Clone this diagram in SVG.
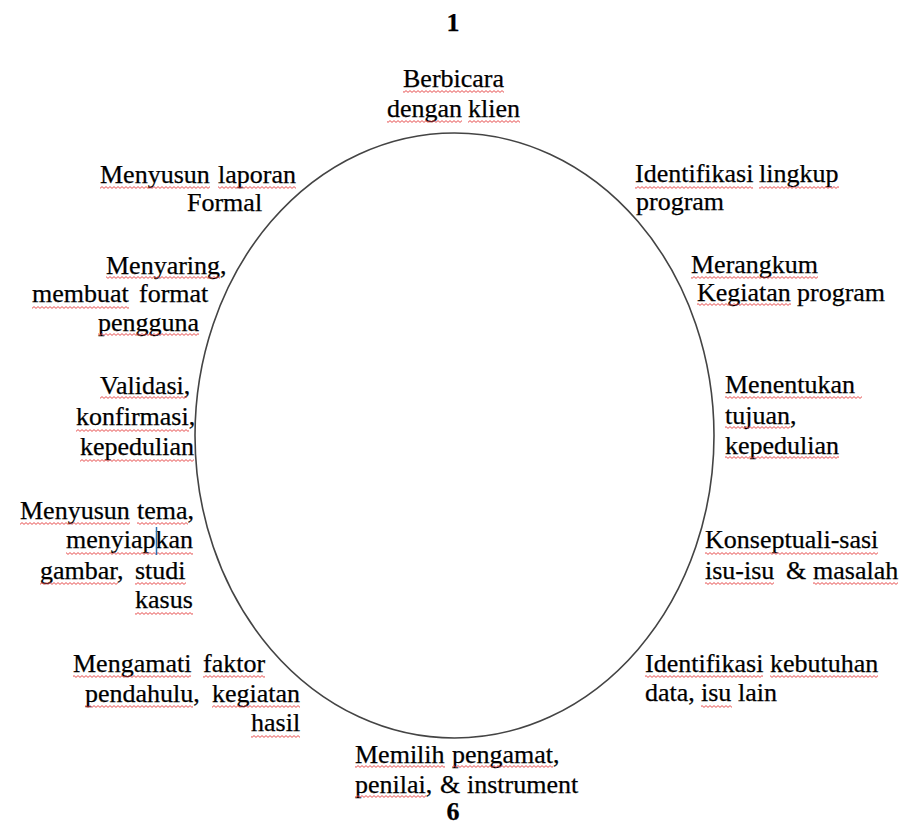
<svg xmlns="http://www.w3.org/2000/svg" width="911" height="825" viewBox="0 0 911 825">
<defs>
<pattern id="wave" width="4" height="3" patternUnits="userSpaceOnUse">
<path d="M0 2.4 L2 0.6 L4 2.4" fill="none" stroke="#e43b3b" stroke-width="0.9"/>
</pattern>
</defs>
<style>
text{font-family:"Liberation Serif","DejaVu Serif",serif;font-size:26px;fill:#000;stroke:#000;stroke-width:0.25;white-space:pre}
.num{font-weight:bold;text-anchor:middle}
.w{fill:url(#wave)}
.ring{fill:none;stroke:#444;stroke-width:1.6}
</style>
<rect width="911" height="825" fill="#fff"/>
<g id="connectors">
<ellipse class="ring" cx="454.5" cy="435.5" rx="259.5" ry="302.5"/>
</g>
<g id="label-1"><text class="num" x="453" y="31">1</text></g>
<g id="label-6"><text class="num" x="453" y="820">6</text></g>
<g id="node-berbicara">
<text x="403" y="87">Berbicara</text>
<text y="117"><tspan x="387">dengan</tspan><tspan x="468">klien</tspan></text>
<rect class="w" x="403" y="90" width="101" height="3"/>
<rect class="w" x="387" y="120" width="75" height="3"/>
<rect class="w" x="468" y="120" width="52" height="3"/>
</g>
<g id="node-identifikasi-lingkup">
<text y="182"><tspan x="635">Identifikasi</tspan><tspan x="759">lingkup</tspan></text>
<text x="636" y="210">program</text>
<rect class="w" x="635" y="186" width="118" height="3"/>
<rect class="w" x="759" y="186" width="80" height="3"/>
</g>
<g id="node-merangkum">
<text x="691" y="273">Merangkum</text>
<text y="301"><tspan x="697">Kegiatan</tspan><tspan x="797">program</tspan></text>
<rect class="w" x="691" y="276" width="127" height="3"/>
<rect class="w" x="697" y="303" width="94" height="3"/>
</g>
<g id="node-menentukan">
<text x="725" y="393">Menentukan</text>
<text x="725" y="424">tujuan,</text>
<text x="725" y="454">kepedulian</text>
<rect class="w" x="725" y="396" width="137" height="3"/>
<rect class="w" x="725" y="426" width="65" height="3"/>
<rect class="w" x="725" y="456" width="114" height="3"/>
</g>
<g id="node-konseptualisasi">
<text x="705" y="548">Konseptuali-sasi</text>
<text y="579"><tspan x="705">isu-isu</tspan><tspan x="786">&amp;</tspan><tspan x="813">masalah</tspan></text>
<rect class="w" x="705" y="552" width="173" height="3"/>
<rect class="w" x="705" y="582" width="69" height="3"/>
<rect class="w" x="813" y="582" width="85" height="3"/>
</g>
<g id="node-identifikasi-kebutuhan">
<text y="672"><tspan x="645">Identifikasi</tspan><tspan x="770">kebutuhan</tspan></text>
<text y="701"><tspan x="645">data,</tspan><tspan x="701">isu</tspan><tspan x="738">lain</tspan></text>
<rect class="w" x="645" y="675" width="118" height="3"/>
<rect class="w" x="770" y="675" width="108" height="3"/>
<rect class="w" x="701" y="705" width="31" height="3"/>
</g>
<g id="node-memilih">
<text y="763"><tspan x="355">Memilih</tspan><tspan x="452">pengamat,</tspan></text>
<text y="793"><tspan x="355">penilai,</tspan><tspan x="440">&amp;</tspan><tspan x="467">instrument</tspan></text>
<rect class="w" x="355" y="765" width="90" height="3"/>
<rect class="w" x="452" y="765" width="101" height="3"/>
<rect class="w" x="355" y="795" width="71" height="3"/>
</g>
<g id="node-mengamati">
<text y="672"><tspan x="73">Mengamati</tspan><tspan x="203">faktor</tspan></text>
<text y="702"><tspan x="85">pendahulu,</tspan><tspan x="212">kegiatan</tspan></text>
<text x="251" y="731">hasil</text>
<rect class="w" x="73" y="675" width="118" height="3"/>
<rect class="w" x="203" y="675" width="62" height="3"/>
<rect class="w" x="85" y="705" width="108" height="3"/>
<rect class="w" x="212" y="705" width="88" height="3"/>
<rect class="w" x="251" y="735" width="49" height="3"/>
</g>
<g id="node-menyusun-tema">
<text y="519"><tspan x="20">Menyusun</tspan><tspan x="137">tema,</tspan></text>
<text x="66" y="548">menyiapkan</text>
<text y="579"><tspan x="40">gambar,</tspan><tspan x="135">studi</tspan></text>
<text x="135" y="608">kasus</text>
<rect class="w" x="20" y="522" width="110" height="3"/>
<rect class="w" x="137" y="522" width="51" height="3"/>
<rect class="w" x="66" y="552" width="127" height="3"/>
<rect class="w" x="40" y="582" width="78" height="3"/>
<rect class="w" x="135" y="582" width="51" height="3"/>
<rect class="w" x="135" y="612" width="58" height="3"/>
<line x1="156.5" y1="527" x2="156.5" y2="555" stroke="#2a6fb0" stroke-width="1.5"/>
</g>
<g id="node-validasi">
<text x="100" y="394">Validasi,</text>
<text x="76" y="425">konfirmasi,</text>
<text x="80" y="455">kepedulian</text>
<rect class="w" x="100" y="396" width="87" height="3"/>
<rect class="w" x="76" y="429" width="113" height="3"/>
<rect class="w" x="80" y="459" width="114" height="3"/>
</g>
<g id="node-menyaring">
<text x="106" y="274">Menyaring,</text>
<text y="302"><tspan x="32">membuat</tspan><tspan x="139">format</tspan></text>
<text x="98" y="331">pengguna</text>
<rect class="w" x="106" y="276" width="114" height="3"/>
<rect class="w" x="32" y="306" width="97" height="3"/>
<rect class="w" x="98" y="333" width="101" height="3"/>
</g>
<g id="node-menyusun-laporan">
<text y="183"><tspan x="100">Menyusun</tspan><tspan x="218">laporan</tspan></text>
<text x="187" y="211">Formal</text>
<rect class="w" x="100" y="186" width="110" height="3"/>
<rect class="w" x="218" y="186" width="78" height="3"/>
</g>
</svg>
